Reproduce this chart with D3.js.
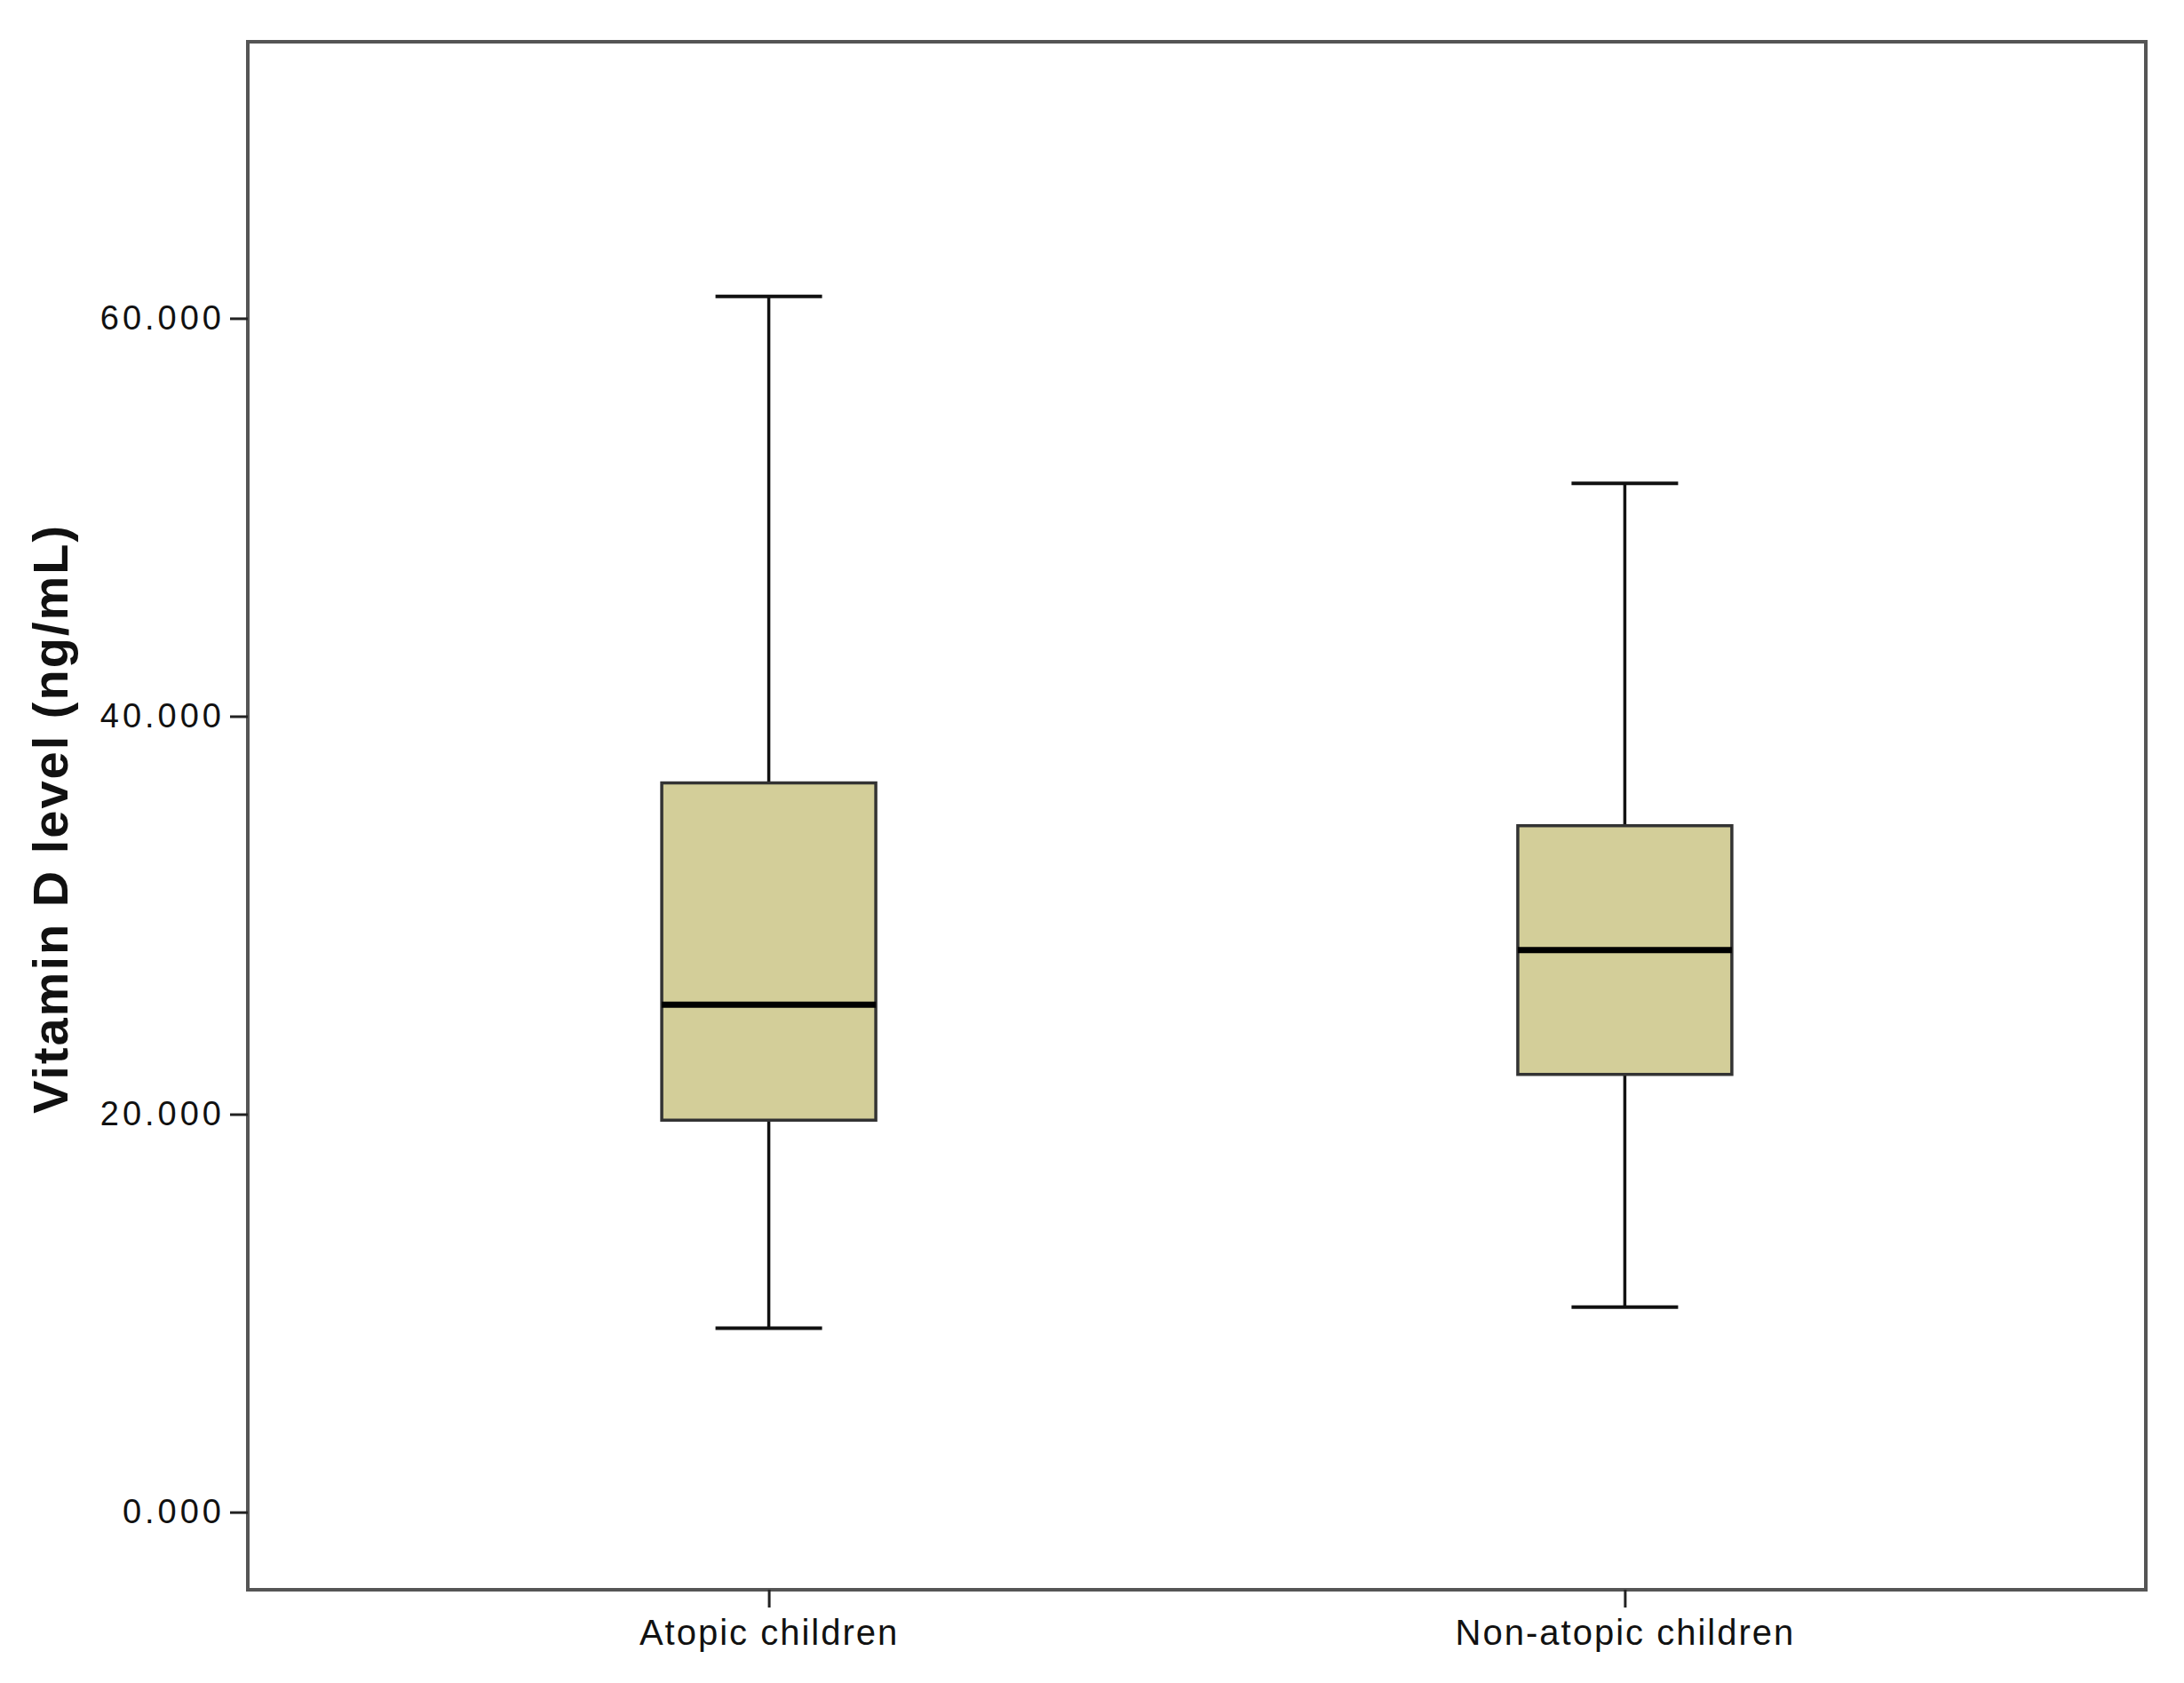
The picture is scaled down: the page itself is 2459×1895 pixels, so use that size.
<!DOCTYPE html>
<html><head><meta charset="utf-8">
<script src="https://cdn.jsdelivr.net/npm/d3@7"></script>
<style>body{margin:0;background:#fff}</style></head>
<body><svg id="c" width="2459" height="1895"></svg>
<script>
const categories = ["Atopic children", "Non-atopic children"];
const whiskerLow = [9.25, 10.3];
const q1 = [19.7, 22.0];
const median = [25.5, 28.25];
const q3 = [36.65, 34.5];
const whiskerHigh = [61.1, 51.7];
const yTicks = [0, 20, 40, 60];

const svg = d3.select("#c");
const L = 279, R = 2416, T = 47, B = 1790;
const x = d3.scalePoint().domain(categories).range([L, R]).padding(0.6086);
const y = d3.scaleLinear().domain([-3.9, 73.9]).range([B, T]);
const font = "Liberation Sans, Arial, sans-serif";

svg.append("rect").attr("x", L).attr("y", T).attr("width", R - L).attr("height", B - T)
  .attr("fill", "none").attr("stroke", "#555").attr("stroke-width", 4);

const ya = svg.append("g").attr("transform", `translate(${L},0)`)
  .call(d3.axisLeft(y).tickValues(yTicks).tickFormat(d3.format(".3f")).tickSize(20).tickPadding(6));
ya.select(".domain").remove();
ya.selectAll("line").attr("stroke", "#222").attr("stroke-width", 3);
ya.selectAll("text").attr("font-family", font).attr("font-size", 38).attr("letter-spacing", 4).attr("fill", "#111");

const xa = svg.append("g").attr("transform", `translate(0,${B})`)
  .call(d3.axisBottom(x).tickSize(20).tickPadding(14));
xa.select(".domain").remove();
xa.selectAll("line").attr("stroke", "#222").attr("stroke-width", 3);
xa.selectAll("text").attr("font-family", font).attr("font-size", 40).attr("letter-spacing", 2).attr("fill", "#111");

svg.append("text").attr("transform", `translate(76,922) rotate(-90)`)
  .attr("text-anchor", "middle").attr("font-family", font).attr("font-weight", "bold")
  .attr("font-size", 56).attr("letter-spacing", 2).attr("fill", "#111").text("Vitamin D level (ng/mL)");

const bw = 241, cw = 120;
categories.forEach((c, i) => {
  const cx = x(c);
  const g = svg.append("g");
  g.append("line").attr("x1", cx).attr("x2", cx).attr("y1", y(whiskerHigh[i])).attr("y2", y(q3[i]))
    .attr("stroke", "#111").attr("stroke-width", 3.5);
  g.append("line").attr("x1", cx).attr("x2", cx).attr("y1", y(q1[i])).attr("y2", y(whiskerLow[i]))
    .attr("stroke", "#111").attr("stroke-width", 3.5);
  [whiskerHigh[i], whiskerLow[i]].forEach(v => g.append("line")
    .attr("x1", cx - cw/2).attr("x2", cx + cw/2).attr("y1", y(v)).attr("y2", y(v))
    .attr("stroke", "#111").attr("stroke-width", 4));
  g.append("rect").attr("x", cx - bw/2).attr("width", bw).attr("y", y(q3[i]))
    .attr("height", y(q1[i]) - y(q3[i])).attr("fill", "#d3ce99")
    .attr("stroke", "#333").attr("stroke-width", 3.5);
  g.append("line").attr("x1", cx - bw/2).attr("x2", cx + bw/2).attr("y1", y(median[i])).attr("y2", y(median[i]))
    .attr("stroke", "#000").attr("stroke-width", 7);
});
</script></body></html>
